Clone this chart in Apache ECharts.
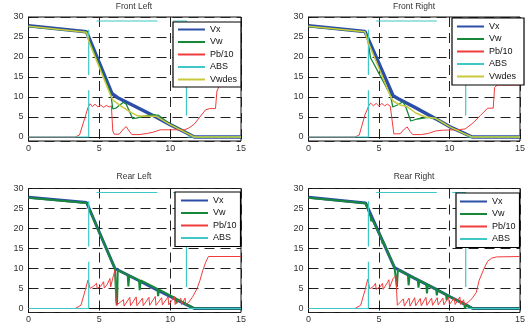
<!DOCTYPE html>
<html>
<head>
<meta charset="utf-8">
<script src="https://cdn.jsdelivr.net/npm/echarts@6/dist/echarts.min.js"></script>
<style>
  html, body { margin: 0; padding: 0; background: #fff; }
  #chart { width: 528px; height: 329px; }
</style>
</head>
<body>
<div id="chart"></div>
<script>
// ---- data: [time, value] ----
var titles = ['Front Left', 'Front Right', 'Rear Left', 'Rear Right'];
var xTicks = [0, 5, 10, 15];

// ABS flag is drawn the same in all four plots ('-' = gap)
var absFlag = [[0,0],[4.25,0],[4.25,11.7],[4.25,'-'],[4.25,15.5],[4.25,26.8],[4.25,'-'],
  [4.8,29],[9.1,29],[9.1,'-'],[10.2,29],[11.15,29],[11.15,5.4],[11.15,'-'],[11.2,0],[15,0]];

// Front Left
var vxFL = [[0,27.8],[4.1,26.3],[5.9,10.8],[6.3,9.8],[7.5,7.7],[9,5.0],[10,3.1],[11,1.3],[11.7,0],[15,0]];
var vwFL = [[0,27.6],[4.1,26.2],[4.25,24.4],[5.8,11.0],[5.95,7.0],[6.2,7.3],[6.7,8.7],[6.9,8.2],[7.35,4.6],
  [7.6,4.7],[8.2,5.2],[8.8,5.6],[9.2,5.4],[10,3.2],[11,1.4],[11.7,0],[15,0]];
var pbFL = [[0,0],[3.3,0],[3.6,0.5],[4.0,5],[4.2,7.4],[4.35,8.3],[4.5,7.6],[4.7,8.2],[4.9,7.5],[5.1,8.0],
  [5.3,7.4],[5.5,7.9],[5.7,7.5],[5.85,7.8],[5.95,1.5],[6.05,0.7],[6.4,0.7],[6.7,2.0],[6.9,2.6],[7.1,1.5],
  [7.3,0.6],[7.8,0.6],[8.4,0.9],[8.8,1.2],[9.3,1.8],[10,1.8],[11.0,1.8],[11.3,2.2],[11.7,3.2],[12.1,5.0],
  [12.5,6.8],[12.8,7.1],[13.2,7.1],[13.3,11.5],[13.5,13],[15,13]];
var vwdesFL = [[0,27.7],[4.1,26.2],[4.25,24.0],[5.75,10.8],[5.95,9.3],[6.5,7.8],[7.2,6.2],[7.7,5.3],[8.3,5.2],
  [9,5.2],[10,3.1],[11,1.3],[11.7,0],[15,0]];

// Front Right
var vxFR = [[0,27.8],[4.0,26.4],[6.0,10.3],[6.4,9.5],[7.5,7.5],[9,4.6],[10,2.6],[11,1.0],[11.6,0],[15,0]];
var vwFR = [[0,27.6],[4.0,26.3],[4.2,24.5],[4.4,19.8],[4.5,20.2],[5.8,10.6],[5.98,7.5],[6.3,8.0],[6.7,8.8],
  [6.9,7.5],[7.25,4.0],[7.7,4.5],[8.5,4.9],[9.0,4.6],[10,2.5],[11,0.9],[11.6,0],[15,0]];
var pbFR = [[0,0],[3.3,0],[3.6,0.5],[4.0,5.5],[4.25,7.6],[4.4,8.5],[4.6,7.8],[4.8,8.4],[5.0,7.7],[5.2,8.4],
  [5.4,7.8],[5.6,8.2],[5.8,7.7],[5.9,5],[6.05,0.8],[6.5,0.8],[6.8,2.0],[7.0,2.5],[7.2,1.4],[7.4,0.6],
  [8.0,0.6],[8.5,0.9],[9.0,1.5],[9.5,1.7],[10.5,1.8],[11.1,2.0],[11.6,3.3],[12.2,5.4],[12.7,7.2],
  [13.1,7.2],[13.2,12.4],[13.4,13],[15,13]];
var vwdesFR = [[0,27.7],[4.0,26.3],[4.2,24.0],[5.8,10.3],[6.0,9.0],[6.5,8.0],[7.0,7.6],[7.6,6.0],[8.3,5.0],
  [9.0,4.7],[10,2.6],[11,0.9],[11.6,0],[15,0]];

// Rear Left
var vxRL = [[0,27.8],[4.1,26.5],[6.1,10],[7.5,7.5],[9,4.8],[10,3.0],[11,1.2],[11.7,0],[15,0]];
var vwRL = [[0,27.7],[4.1,26.4],[6.1,10],[6.2,2],[6.25,0.8],[6.3,9.6],[7.0,8.4],[7.05,5.5],[7.12,8.2],
  [7.8,7.1],[7.85,4.6],[7.92,7.0],[9.1,4.9],[9.15,3.1],[9.22,4.7],[10.4,2.5],[10.45,1.3],[10.52,2.3],
  [11.7,0],[15,0]];
var pbRL = [[0,0],[3.3,0],[3.7,0.8],[4.0,4.5],[4.2,7.1],[4.35,5.0],[4.6,5.6],[4.8,6.3],[4.85,5.0],[5.1,5.6],
  [5.3,6.7],[5.35,5.1],[5.55,6.0],[5.75,7.5],[5.8,5.4],[5.95,7.6],[6.1,9.6],[6.2,0.8],[6.3,0.5],
  [6.7,2.2],[6.75,0.6],[7.15,2.8],[7.2,0.7],[7.6,2.9],[7.65,0.7],[8.05,2.6],[8.1,0.7],[8.5,2.8],[8.55,0.8],
  [8.95,3.0],[9.0,0.8],[9.4,2.7],[9.45,0.9],[9.85,2.9],[9.9,0.9],[10.3,3.0],[10.35,1.0],[10.75,2.6],
  [10.8,1.0],[11.05,2.6],[11.1,1.0],[11.3,1.5],[11.6,3.0],[11.9,5.0],[12.1,7.0],[12.3,9.5],[12.5,11.5],
  [12.7,13],[15,13]];

// Rear Right
var vxRR = [[0,27.8],[4.05,26.4],[6.1,10.2],[7.5,7.6],[9,4.9],[10,3.0],[11,1.2],[11.65,0],[15,0]];
var vwRR = [[0,27.7],[4.05,26.3],[4.4,23.0],[4.45,21.8],[4.5,22.4],[5.2,17.3],[5.25,16.2],[5.3,16.8],
  [6.1,10.2],[6.22,9.9],[6.27,5.4],[6.34,9.7],[7.05,8.4],[7.1,5.8],[7.17,8.2],[7.75,7.2],[7.8,5.2],
  [7.87,7.0],[8.35,6.1],[8.4,3.8],[8.47,5.9],[9.05,4.8],[9.1,3.3],[9.17,4.6],[9.75,3.5],[9.8,2.1],
  [9.87,3.3],[11.05,1.1],[11.1,0],[11.17,0.9],[11.65,0],[15,0]];
var pbRR = [[0,0],[3.3,0],[3.7,0.8],[4.0,4.5],[4.2,7.3],[4.35,4.9],[4.6,5.5],[4.75,6.3],[4.8,4.8],[5.1,5.5],
  [5.25,6.3],[5.3,4.8],[5.6,6.5],[5.7,7.2],[5.75,5.2],[6.0,7.5],[6.2,8.3],[6.3,0.8],[6.4,0.4],
  [6.73,2.4],[6.8,0.6],[7.13,2.6],[7.2,0.6],[7.53,2.7],[7.6,0.7],[7.93,2.5],[8.0,0.7],[8.33,2.8],
  [8.4,0.8],[8.73,2.6],[8.8,0.8],[9.13,2.7],[9.2,0.9],[9.53,2.6],[9.6,0.9],[9.93,2.8],[10.0,1.0],
  [10.33,2.6],[10.4,1.0],[10.73,2.9],[10.8,1.0],[11.0,2.2],[11.05,1.0],[11.3,1.5],[11.6,2.5],[11.9,4.0],
  [12.1,7.0],[12.4,9.6],[12.7,11.8],[13.0,12.6],[13.35,12.9],[15,13]];

var panels = [
  {vx: vxFL, vw: vwFL, pb: pbFL, vwdes: vwdesFL},
  {vx: vxFR, vw: vwFR, pb: pbFR, vwdes: vwdesFR},
  {vx: vxRL, vw: vwRL, pb: pbRL},
  {vx: vxRR, vw: vwRR, pb: pbRR}
];

// ---- layout ----
var gridPos = [
  {left: 28.5, top: 17, width: 212.5, height: 124},
  {left: 308.5, top: 17, width: 212.5, height: 124},
  {left: 28.5, top: 188.5, width: 212.5, height: 124},
  {left: 308.5, top: 188.5, width: 212.5, height: 124}
];
var legendPos = [
  {left: 173, top: 22, padding: [3, 4, 3, 4]},
  {left: 452, top: 18, padding: [4, 8, 4, 4]},
  {left: 175, top: 192, padding: [4, 4, 4, 5]},
  {left: 456, top: 193, padding: [4, 4, 4, 3]}
];
var titleCenter = [[134, 2], [414, 2], [134, 172], [414, 172]];

var colors = {Vx: '#2d4ea6', Vw: '#17883a', Pb: '#f03c3c', ABS: '#3ec8c8', Vwdes: '#c9c93e'};
var fontFamily = '"Liberation Sans", Arial, sans-serif';
var dash = [10, 6];

var option = {
  animation: false,
  backgroundColor: '#fff',
  title: [], grid: [], xAxis: [], yAxis: [], legend: [], series: []
};

function lineSeries(name, idx, data, color, width) {
  return {
    name: name, type: 'line', xAxisIndex: idx, yAxisIndex: idx,
    data: data, symbol: 'none', showSymbol: false, connectNulls: false,
    lineStyle: {color: color, width: width},
    itemStyle: {color: color}
  };
}

panels.forEach(function (p, i) {
  var top = i < 2;
  option.title.push({
    text: titles[i], left: titleCenter[i][0], top: titleCenter[i][1], textAlign: 'center', padding: 0,
    textStyle: {fontSize: 8.5, fontWeight: 'normal', color: '#333', fontFamily: fontFamily}
  });
  option.grid.push(Object.assign({show: true, borderColor: '#111', borderWidth: 1, backgroundColor: '#fff'}, gridPos[i]));
  option.xAxis.push({
    type: 'value', gridIndex: i, min: 0, max: 15, interval: 5,
    axisLine: {lineStyle: {color: '#111'}},
    axisTick: {inside: true, length: 3, lineStyle: {color: '#111'}},
    axisLabel: {fontSize: 9, color: '#333', margin: 3, fontFamily: fontFamily},
    splitLine: {show: true, lineStyle: {color: '#222', type: dash, width: 1}}
  });
  option.yAxis.push({
    type: 'value', gridIndex: i, min: -1, max: 30,
    axisLine: {show: true, lineStyle: {color: '#111'}},
    axisTick: {inside: true, length: 3, lineStyle: {color: '#111'}},
    axisLabel: {fontSize: 9, color: '#333', margin: 5, showMinLabel: false, fontFamily: fontFamily},
    splitLine: {show: true, lineStyle: {color: '#222', type: dash, width: 1}}
  });
  var names = top ? ['Vx', 'Vw', 'Pb/10', 'ABS', 'Vwdes'] : ['Vx', 'Vw', 'Pb/10', 'ABS'];
  option.legend.push(Object.assign({
    data: names, orient: 'vertical', selectedMode: false,
    itemWidth: 27, itemHeight: 8, itemGap: 3.5,
    itemStyle: {opacity: 0},
    backgroundColor: '#fff', borderColor: '#000', borderWidth: 1.2, borderRadius: 0,
    textStyle: {fontSize: 9, color: '#111', fontFamily: fontFamily, lineHeight: 8}
  }, legendPos[i]));

  option.series.push(lineSeries('Vx', i, p.vx, colors.Vx, top ? 3.5 : 3));
  option.series.push(lineSeries('Vw', i, p.vw, colors.Vw, top ? 1.3 : 2));
  option.series.push(lineSeries('Pb/10', i, p.pb, colors.Pb, 1));
  option.series.push(lineSeries('ABS', i, absFlag, colors.ABS, 1.2));
  if (top) option.series.push(lineSeries('Vwdes', i, p.vwdes, colors.Vwdes, 1.5));
});

var myChart = echarts.init(document.getElementById('chart'));
myChart.setOption(option);
</script>
</body>
</html>
